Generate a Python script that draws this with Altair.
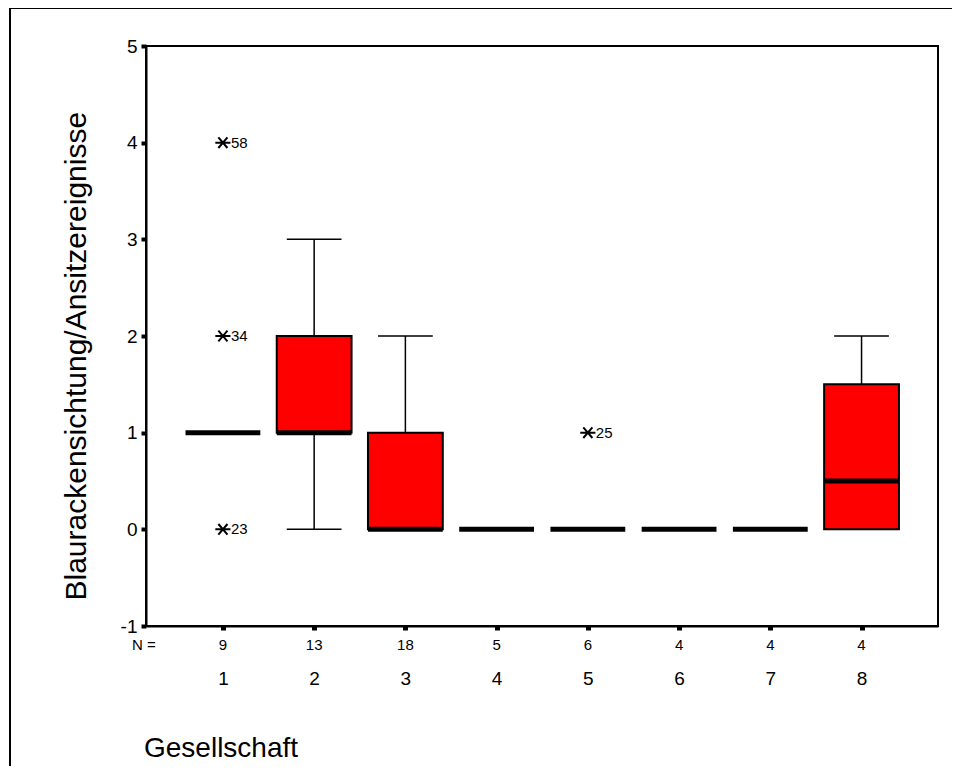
import altair as alt
import pandas as pd

FONT = "Liberation Sans, Arial, sans-serif"

# ---- data ----
categories = [1, 2, 3, 4, 5, 6, 7, 8]
n_counts = ["9", "13", "18", "5", "6", "4", "4", "4"]
q1 = [1, 1, 0, 0, 0, 0, 0, 0]
median = [1, 1, 0, 0, 0, 0, 0, 0.5]
q3 = [1, 2, 1, 0, 0, 0, 0, 1.5]
whisker_low = [1, 0, 0, 0, 0, 0, 0, 0]
whisker_high = [1, 3, 2, 0, 0, 0, 0, 2]

outlier_cat = [1, 1, 1, 5]
outlier_val = [4, 2, 0, 1]
outlier_id = ["58", "34", "23", "25"]

y_ticks = [-1, 0, 1, 2, 3, 4, 5]
y_title = "Blaurackensichtung/Ansitzereignisse"
x_title = "Gesellschaft"

W, H = 792, 580
BOX_HALF = 0.41
CAP_HALF = 0.30

df = pd.DataFrame({
    "cat": categories, "n": n_counts, "q1": q1, "med": median, "q3": q3,
    "lo": whisker_low, "hi": whisker_high,
})
out = pd.DataFrame({"cat": outlier_cat, "val": outlier_val, "id": outlier_id})

xscale = alt.Scale(domain=[0.157, 8.838], nice=False, zero=False)
yscale = alt.Scale(domain=[-1, 5], nice=False, zero=False)

xaxis = alt.Axis(values=categories, title=None, grid=False, labelFontSize=19,
                 labelFont=FONT, labelColor="black", tickColor="black",
                 tickSize=4, tickWidth=5, domainColor="black", domainWidth=2,
                 labelPadding=39, format="d")
yaxis = alt.Axis(values=y_ticks, grid=False, labelFontSize=19, labelFont=FONT,
                 labelColor="black", tickColor="black", tickSize=5, tickWidth=4,
                 domainColor="black", domainWidth=2, labelPadding=4,
                 labelExpr="datum.value < 0 ? '-' + abs(datum.value) : '' + datum.value",
                 title=y_title, titleFont=FONT, titleFontSize=30,
                 titleFontWeight="normal", titleColor="black", titleAngle=270,
                 titleAlign="left", titleBaseline="middle", titleX=-70, titleY=554)

base = alt.Chart(df).transform_calculate(
    xl=f"datum.cat - {BOX_HALF}", xr=f"datum.cat + {BOX_HALF}",
    cl=f"datum.cat - {CAP_HALF}", cr=f"datum.cat + {CAP_HALF}",
)

# upper whisker
up_whisk = base.transform_filter("datum.hi > datum.q3").mark_rule(
    color="black", strokeWidth=1.5).encode(
    x=alt.X("cat:Q", scale=xscale, axis=xaxis),
    y=alt.Y("q3:Q", scale=yscale, axis=yaxis), y2="hi:Q")
up_cap = base.transform_filter("datum.hi > datum.q3").mark_rule(
    color="black", strokeWidth=1.5).encode(
    x=alt.X("cl:Q", scale=xscale), x2="cr:Q", y=alt.Y("hi:Q", scale=yscale))
lo_whisk = base.transform_filter("datum.lo < datum.q1").mark_rule(
    color="black", strokeWidth=1.5).encode(
    x=alt.X("cat:Q", scale=xscale), y=alt.Y("lo:Q", scale=yscale), y2="q1:Q")
lo_cap = base.transform_filter("datum.lo < datum.q1").mark_rule(
    color="black", strokeWidth=1.5).encode(
    x=alt.X("cl:Q", scale=xscale), x2="cr:Q", y=alt.Y("lo:Q", scale=yscale))

boxes = base.transform_filter("datum.q3 > datum.q1").mark_rect(
    fill="#FF0000", stroke="black", strokeWidth=2).encode(
    x=alt.X("xl:Q", scale=xscale), x2="xr:Q",
    y=alt.Y("q1:Q", scale=yscale), y2="q3:Q")

medians = base.mark_rule(color="black", strokeWidth=5).encode(
    x=alt.X("xl:Q", scale=xscale), x2="xr:Q", y=alt.Y("med:Q", scale=yscale))

n_text = base.mark_text(font=FONT, fontSize=15, baseline="top", align="center",
                        color="black").encode(
    x=alt.X("cat:Q", scale=xscale), y=alt.value(H + 12), text="n:N")

n_label = alt.Chart(pd.DataFrame({"t": ["N ="]})).mark_text(
    font=FONT, fontSize=15, baseline="top", align="left", color="black").encode(
    x=alt.value(-14), y=alt.value(H + 12), text="t:N")

x_title_mark = alt.Chart(pd.DataFrame({"t": [x_title]})).mark_text(
    font=FONT, fontSize=28, baseline="top", align="left", color="black").encode(
    x=alt.value(-2), y=alt.value(H + 109), text="t:N")

star = "M-1,0L1,0M-0.6,-0.7L0.6,0.7M-0.6,0.7L0.6,-0.7"
outliers = alt.Chart(out).mark_point(shape=star, size=230, filled=False,
                                     stroke="black", strokeWidth=2,
                                     opacity=1).encode(
    x=alt.X("cat:Q", scale=xscale), y=alt.Y("val:Q", scale=yscale))
out_labels = alt.Chart(out).mark_text(font=FONT, fontSize=15, align="left",
                                      baseline="middle", dx=8, color="black").encode(
    x=alt.X("cat:Q", scale=xscale), y=alt.Y("val:Q", scale=yscale), text="id:N")

frame_left = alt.Chart(pd.DataFrame({"a": [0]})).mark_rule(
    color="black", strokeWidth=2, clip=False).encode(
    x=alt.value(-136), y=alt.value(-38), y2=alt.value(H + 200))
frame_top = alt.Chart(pd.DataFrame({"a": [0]})).mark_rule(
    color="black", strokeWidth=2, clip=False).encode(
    x=alt.value(-137), x2=alt.value(W + 30), y=alt.value(-38))

chart = alt.layer(
    up_whisk, up_cap, lo_whisk, lo_cap, boxes, medians, outliers, out_labels,
    n_text, n_label, x_title_mark, frame_left, frame_top,
).properties(
    width=W, height=H,
    background="white",
    autosize=alt.AutoSizeParams(type="none"),
    padding={"left": 138, "top": 38, "right": 14, "bottom": 140},
).configure_view(stroke="black", strokeWidth=2)

chart.save("out.html", embed_options={"renderer": "svg", "actions": False})
